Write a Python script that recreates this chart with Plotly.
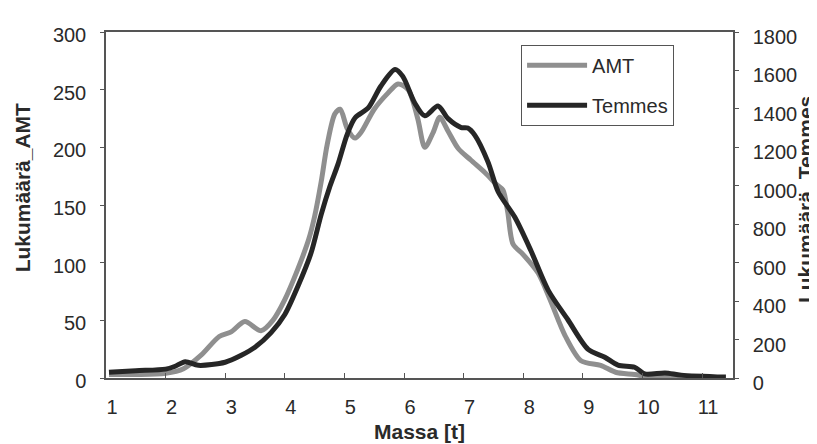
import plotly.graph_objects as go

# AMT series (left axis)
amt_x = [1.05, 1.5, 2.0, 2.3, 2.6, 2.9, 3.1, 3.33, 3.6, 3.8, 4.0, 4.2, 4.4, 4.5, 4.61,
         4.71, 4.84, 4.93, 5.05, 5.18, 5.28, 5.5, 5.73, 5.9, 6.07, 6.23, 6.35, 6.49,
         6.6, 6.74, 6.91, 7.12, 7.36, 7.55, 7.66, 7.74, 7.83, 8.0, 8.25, 8.45, 8.7,
         8.97, 9.3, 9.55, 9.87, 10.1, 10.5, 11.4]
amt_y = [3, 3, 4, 8, 20, 36, 40, 49, 41, 50, 68, 92, 120, 140, 170,
         202, 229, 233, 216, 208, 213, 233, 247, 255, 250, 225, 200, 213,
         226, 214, 199, 189, 178, 168, 163, 144, 116, 107, 91, 68, 37,
         15, 11, 5, 3, 1, 0.5, 0]

# Temmes series (right axis)
tem_x = [1.05, 1.5, 2.0, 2.15, 2.33, 2.55, 3.0, 3.27, 3.5, 3.77, 4.0, 4.22, 4.44,
         4.61, 4.76, 4.89, 5.05, 5.18, 5.4, 5.61, 5.85, 5.98, 6.18, 6.35, 6.57,
         6.74, 6.96, 7.07, 7.19, 7.41, 7.58, 7.86, 8.13, 8.42, 8.75, 9.09, 9.37,
         9.59, 9.87, 10.04, 10.38, 10.65, 11.4]
tem_y = [30, 38, 46, 60, 85, 66, 82, 118, 160, 236, 330, 477, 650,
         850, 1000, 1110, 1270, 1354, 1405, 1518, 1605, 1569, 1431, 1364, 1415,
         1349, 1303, 1300, 1262, 1123, 969, 836, 662, 456, 303, 149, 108,
         67, 56, 21, 26, 15, 5]

x_ticks = list(range(1, 12))
left_ticks = [0, 50, 100, 150, 200, 250, 300]
right_ticks = [0, 200, 400, 600, 800, 1000, 1200, 1400, 1600, 1800]

FONT = "Liberation Sans, Arial, sans-serif"
TXT = "#2a2a2a"
AX = "#555555"

fig = go.Figure()
fig.add_trace(go.Scatter(x=amt_x, y=amt_y, name="AMT", mode="lines",
                         line=dict(color="#8f8f8f", width=5, shape="spline", smoothing=0.8),
                         legendgroup="a", yaxis="y"))
fig.add_trace(go.Scatter(x=tem_x, y=tem_y, name="Temmes", mode="lines",
                         line=dict(color="#262626", width=5, shape="spline", smoothing=0.8),
                         legendgroup="b", yaxis="y2"))

fig.update_layout(
    width=817, height=444,
    margin=dict(l=98, r=92, t=24, b=68),
    paper_bgcolor="white", plot_bgcolor="white",
    font=dict(family=FONT, size=20, color=TXT),
    showlegend=True,
    legend=dict(x=0.662, y=0.963, xanchor="left", yanchor="top",
                bordercolor="#555555", borderwidth=1, bgcolor="white",
                font=dict(size=20, color=TXT), itemwidth=60,
                tracegroupgap=11),
    xaxis=dict(range=[1, 11.52], tickvals=x_ticks, ticktext=[str(v) for v in x_ticks],
               showgrid=False, zeroline=False, showline=True, linecolor=AX, linewidth=1.5,
               mirror=True, ticks="inside", ticklen=5, tickcolor=AX,
               ticklabelshift=6, ticklabelstandoff=10,
               title=dict(text="<b>Massa [t]</b>", font=dict(size=21, color=TXT), standoff=8)),
    yaxis=dict(range=[0, 300], tickvals=left_ticks, showgrid=False, zeroline=False,
               showline=True, linecolor=AX, linewidth=1.5, ticks="outside", ticklen=4,
               tickcolor=AX, ticklabelshift=3, ticklabelstandoff=10),
    yaxis2=dict(range=[0, 1800], tickvals=right_ticks, overlaying="y", side="right",
                showgrid=False, zeroline=False, showline=True, linecolor=AX, linewidth=1.5,
                ticks="outside", ticklen=4, tickcolor=AX, ticklabelshift=5,
                ticklabelstandoff=10),
    annotations=[
        dict(text="<b>Lukumäärä_AMT</b>", textangle=-90, xref="paper", yref="paper",
             x=(14 - 98) / 627, y=(376 - 183) / 352, xanchor="center", yanchor="middle",
             showarrow=False, font=dict(size=21, color=TXT)),
        dict(text="<b>Lukumäärä_Temmes</b>", textangle=-90, xref="paper", yref="paper",
             x=(797 - 98) / 627, y=(376 - 195) / 352, xanchor="center", yanchor="middle",
             showarrow=False, font=dict(size=21, color=TXT)),
    ],
)

fig.write_html("out.html")
